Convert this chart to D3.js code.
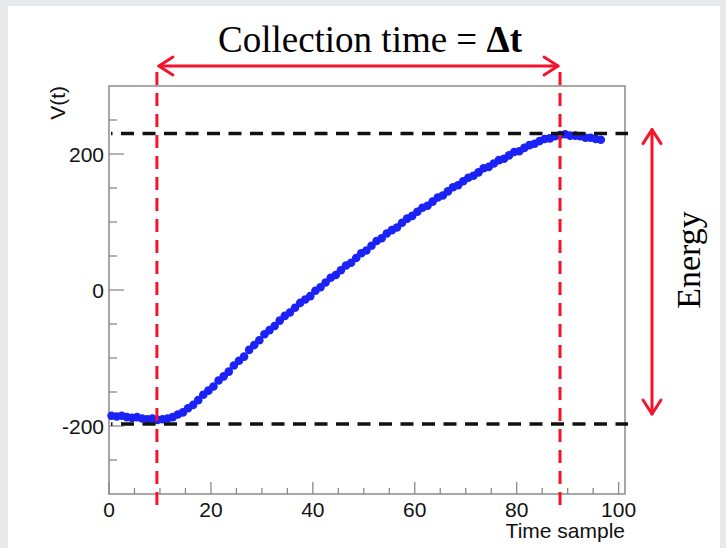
<!DOCTYPE html>
<html>
<head>
<meta charset="utf-8">
<script src="https://cdn.jsdelivr.net/npm/d3@7/dist/d3.min.js"></script>
<style>
  html, body { margin: 0; padding: 0; background: #e7e9ec; }
  svg { display: block; }
</style>
</head>
<body>
<svg id="chart" width="726" height="548"></svg>
<script>
// Sampled waveform V(t), one value per time sample (bin centres at i + 0.5)
const signal = [
  -185, -186, -185, -187, -188, -187, -189, -190, -189, -191,
  -190, -189, -187, -183, -180, -174, -169, -162, -154, -148,
  -142, -133, -127, -120, -111, -104, -98, -88, -81, -74,
  -65, -59, -53, -45, -38, -33, -26, -19, -14, -9,
  -1, 4, 11, 18, 22, 29, 36, 40, 47, 54,
  58, 65, 72, 76, 83, 88, 92, 99, 105, 109,
  115, 121, 124, 130, 136, 139, 145, 151, 154, 160,
  165, 168, 173, 179, 181, 186, 191, 193, 198, 203,
  204, 209, 213, 215, 219, 222, 223, 226, 228, 229,
  227, 227, 226, 224, 224, 222, 221
];

// Axis ticks
const xMajorTicks = [0, 20, 40, 60, 80, 100];
const xMinorTicks = [5, 10, 15, 25, 30, 35, 45, 50, 55, 65, 70, 75, 85, 90, 95];
const yMajorTicks = [-200, 0, 200];
const yMinorTicks = [-250, -150, -100, -50, 50, 100, 150, 250];

// Annotation levels
const baselineLevel = -197;
const peakLevel = 230;
const startSample = 9.4;
const endSample = 88.5;

const svg = d3.select("#chart");

// white page panel
svg.append("rect").attr("x", 8).attr("y", 6).attr("width", 712).attr("height", 548)
  .attr("fill", "#ffffff");

const x = d3.scaleLinear().domain([0, 101.25]).range([109, 625]);
const y = d3.scaleLinear().domain([-300, 300]).range([494, 86]);

const frameColor = "#8a8a8a";

// frame
svg.append("rect")
  .attr("x", x(0)).attr("y", y(300))
  .attr("width", x(101.25) - x(0)).attr("height", y(-300) - y(300))
  .attr("fill", "none").attr("stroke", frameColor).attr("stroke-width", 1.5);

// x ticks
svg.append("g").selectAll("line").data(xMajorTicks).join("line")
  .attr("x1", d => x(d)).attr("x2", d => x(d))
  .attr("y1", y(-300)).attr("y2", y(-300) - 12)
  .attr("stroke", frameColor).attr("stroke-width", 1.3);
svg.append("g").selectAll("line").data(xMinorTicks).join("line")
  .attr("x1", d => x(d)).attr("x2", d => x(d))
  .attr("y1", y(-300)).attr("y2", y(-300) - 6)
  .attr("stroke", frameColor).attr("stroke-width", 1.3);

// y ticks
svg.append("g").selectAll("line").data(yMajorTicks).join("line")
  .attr("x1", x(0)).attr("x2", x(0) + 15)
  .attr("y1", d => y(d)).attr("y2", d => y(d))
  .attr("stroke", frameColor).attr("stroke-width", 1.3);
svg.append("g").selectAll("line").data(yMinorTicks).join("line")
  .attr("x1", x(0)).attr("x2", x(0) + 8)
  .attr("y1", d => y(d)).attr("y2", d => y(d))
  .attr("stroke", frameColor).attr("stroke-width", 1.3);

const sans = "Liberation Sans, Arial, sans-serif";
const serif = "Liberation Serif, Times New Roman, serif";

// tick labels
svg.append("g").selectAll("text").data(xMajorTicks).join("text")
  .attr("x", d => x(d)).attr("y", 517)
  .attr("text-anchor", "middle")
  .attr("font-family", sans).attr("font-size", 21).attr("fill", "#111")
  .text(d => d);
svg.append("g").selectAll("text").data(yMajorTicks).join("text")
  .attr("x", 104).attr("y", d => y(d) + 8)
  .attr("text-anchor", "end")
  .attr("font-family", sans).attr("font-size", 21).attr("fill", "#111")
  .text(d => d);

// axis titles
svg.append("text")
  .attr("x", x(101.25)).attr("y", 538)
  .attr("text-anchor", "end")
  .attr("font-family", sans).attr("font-size", 21).attr("fill", "#111")
  .text("Time sample");
svg.append("text")
  .attr("transform", `translate(65, ${y(300)}) rotate(-90)`)
  .attr("text-anchor", "end")
  .attr("font-family", sans).attr("font-size", 21).attr("fill", "#111")
  .text("V(t)");

// waveform samples
svg.append("g").selectAll("circle").data(signal).join("circle")
  .attr("cx", (d, i) => x(i + 0.5))
  .attr("cy", d => y(d))
  .attr("r", 4.3)
  .attr("fill", "#1a22f5");

// baseline and peak levels
const levelLine = v => svg.append("line")
  .attr("x1", 111).attr("x2", 628)
  .attr("y1", y(v)).attr("y2", y(v))
  .attr("stroke", "#111").attr("stroke-width", 3.5)
  .attr("stroke-dasharray", "13 8.5").attr("stroke-dashoffset", 11.5);
levelLine(peakLevel);
levelLine(baselineLevel);

// collection window boundaries
const red = "#f4142a";
[startSample, endSample].forEach(s => {
  svg.append("line")
    .attr("x1", x(s)).attr("x2", x(s))
    .attr("y1", 72).attr("y2", 506)
    .attr("stroke", red).attr("stroke-width", 3)
    .attr("stroke-dasharray", "13 8");
});

// double-headed arrows
function arrow(x1, y1, x2, y2) {
  const g = svg.append("g").attr("stroke", red).attr("stroke-width", 3)
    .attr("fill", "none").attr("stroke-linecap", "round").attr("stroke-linejoin", "round");
  g.append("line").attr("x1", x1).attr("y1", y1).attr("x2", x2).attr("y2", y2);
  const ang = Math.atan2(y2 - y1, x2 - x1);
  const L = 14, W = 9;
  const head = (px, py, a) => {
    const bx = px - L * Math.cos(a), by = py - L * Math.sin(a);
    const nx = -Math.sin(a) * W, ny = Math.cos(a) * W;
    g.append("path").attr("d", `M${bx + nx},${by + ny}L${px},${py}L${bx - nx},${by - ny}`);
  };
  head(x2, y2, ang);
  head(x1, y1, ang + Math.PI);
}
arrow(x(startSample) + 2, 66, x(endSample) - 2, 66);
arrow(652, y(peakLevel) - 4, 652, y(baselineLevel) - 10);

// annotation texts
const title = svg.append("text")
  .attr("x", 370).attr("y", 52)
  .attr("text-anchor", "middle")
  .attr("font-family", serif).attr("font-size", 37).attr("fill", "#000");
title.append("tspan").text("Collection time = ");
title.append("tspan").attr("font-weight", "bold").text("Δt");

svg.append("text")
  .attr("transform", `translate(700, 260) rotate(-90)`)
  .attr("text-anchor", "middle")
  .attr("font-family", serif).attr("font-size", 34).attr("fill", "#000")
  .text("Energy");
</script>
</body>
</html>
